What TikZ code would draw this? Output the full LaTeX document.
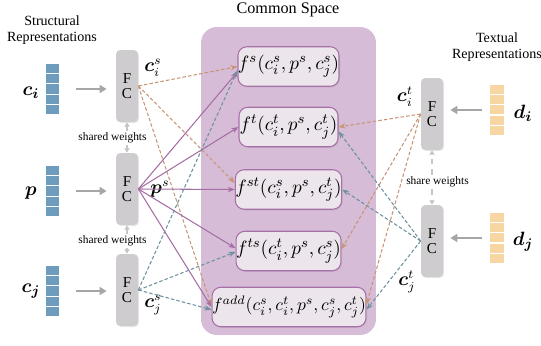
\documentclass[tikz,border=0pt]{standalone}
\usepackage{fontspec}
\setmainfont{Liberation Serif}
\usepackage{bm}
\usetikzlibrary{arrows.meta,shadows}

\definecolor{vecblue}{RGB}{110,156,188}
\definecolor{vecorange}{RGB}{248,214,162}
\definecolor{fcgray}{RGB}{206,204,206}
\definecolor{spacebg}{RGB}{214,188,214}
\definecolor{fboxfill}{RGB}{236,230,236}
\definecolor{fboxdraw}{RGB}{168,112,168}
\definecolor{sline}{RGB}{165,110,165}
\definecolor{brownln}{RGB}{200,148,116}
\definecolor{tealln}{RGB}{108,146,160}

\begin{document}
\begin{tikzpicture}[
    x=0.02cm, y=-0.02cm,
    %% Bunka vektora (štruktúrny / textový)
    bcell/.style={
        draw=white, line width=0.7pt, fill=vecblue,
        minimum width=0.3cm, minimum height=0.208cm, inner sep=0pt
    },
    ocell/.style={bcell, fill=vecorange},
    %% Plne prepojená vrstva
    fcbox/.style={
        fill=fcgray, rounded corners=2.5pt,
        drop shadow={shadow xshift=0.6pt, shadow yshift=-0.6pt, opacity=0.2},
        minimum width=0.44cm, minimum height=1.44cm, inner sep=0pt,
        align=center, font=\fontsize{8.6}{8.6}\selectfont
    },
    %% Funkcia v spoločnom priestore
    fbox/.style={
        draw=fboxdraw, fill=fboxfill, line width=0.6pt, rounded corners=5pt,
        drop shadow={shadow xshift=0.6pt, shadow yshift=-0.6pt, opacity=0.2},
        minimum width=1.98cm, minimum height=0.79cm, inner sep=0pt,
        font=\fontsize{11}{13}\selectfont
    },
    %% Vstup do FC
    feed/.style={draw=gray!70, line width=1.1pt, -{Triangle[length=4pt,width=4.5pt]}},
    %% Hrany do funkcií
    sedge/.style={draw=sline, line width=0.6pt, -{Stealth[length=4pt,width=3pt]}},
    iedge/.style={draw=brownln, line width=0.6pt, dash pattern=on 2pt off 1.2pt,
        -{Stealth[length=4pt,width=3pt]}},
    jedge/.style={iedge, draw=tealln},
    %% Zdieľané váhy
    wtarrow/.style={draw=gray!45, line width=0.8pt, -{Triangle[length=2.5pt,width=3pt]}},
    wtlbl/.style={font=\fontsize{6.5}{7}\selectfont, inner sep=1pt},
    ttl/.style={font=\fontsize{8}{9.2}\selectfont, align=center},
    vlbl/.style={font=\fontsize{11}{12}\selectfont},
    elbl/.style={font=\fontsize{10.5}{12}\selectfont}
]
\useasboundingbox (0,0) rectangle (541,345);

%% ══════════════════════════════════════════════════════════════════
%% Spoločný priestor
%% ══════════════════════════════════════════════════════════════════
\node[fill=spacebg, rounded corners=9pt, minimum width=3.5cm,
      minimum height=6.16cm, inner sep=0pt] (cs) at (288.5,181) {};
\node[font=\fontsize{9.2}{11}\selectfont] (cstitle) at (288,10) {Common Space};

\node[fbox] (fs)  at (288.5,66.5)  {$f^{s}(c_i^{s},p^{s},c_j^{s})$};
\node[fbox] (ft)  at (288.5,127)   {$f^{t}(c_i^{t},p^{s},c_j^{t})$};
\node[fbox] (fst) at (288.5,189.5) {$f^{st}(c_i^{s},p^{s},c_j^{t})$};
\node[fbox] (fts) at (288.5,251)   {$f^{ts}(c_i^{t},p^{s},c_j^{s})$};
\node[fbox, minimum width=3.04cm, font=\fontsize{10}{12}\selectfont] (fadd) at (289,307)
    {$f^{add}(c_i^{s},c_i^{t},p^{s},c_j^{s},c_j^{t})$};

%% ══════════════════════════════════════════════════════════════════
%% Štruktúrne reprezentácie
%% ══════════════════════════════════════════════════════════════════
\node[ttl] (strttl) at (52,30) {Structural\\Representations};

\foreach \v/\yy in {ci/89, p/191, cj/291} {
    \foreach \k in {1,...,5}
        \node[bcell] (\v\k) at (52.5, {\yy+(\k-3)*10.4}) {};
}
\node[vlbl] (lci) at (31,93)  {$\bm{c_i}$};
\node[vlbl] (lp)  at (31,193) {$\bm{p}$};
\node[vlbl] (lcj) at (31,291) {$\bm{c_j}$};

\node[fcbox] (fcl1) at (127,86)  {F\\C};
\node[fcbox] (fcl2) at (127,189) {F\\C};
\node[fcbox] (fcl3) at (127,290) {F\\C};

\draw[feed, shorten <=0.3cm, shorten >=0.18cm] (ci3.east) -- (ci3.east -| fcl1.west);
\draw[feed, shorten <=0.3cm, shorten >=0.18cm] (p3.east)  -- (p3.east -| fcl2.west);
\draw[feed, shorten <=0.3cm, shorten >=0.18cm] (cj3.east) -- (cj3.east -| fcl3.west);

\node[wtlbl] (sw1) at (112.5,138) {shared weights};
\node[wtlbl] (sw2) at (112.5,241) {shared weights};
\draw[wtarrow] (sw1.north -| fcl1.south) -- (fcl1.south);
\draw[wtarrow] (sw1.south -| fcl2.north) -- (fcl2.north);
\draw[wtarrow] (sw2.north -| fcl2.south) -- (fcl2.south);
\draw[wtarrow] (sw2.south -| fcl3.north) -- (fcl3.north);

\node[elbl] (lcis) at (153,68)  {$\bm{c}_i^{s}$};
\node[elbl] (lps)  at (160,189) {$\bm{p}^{s}$};
\node[elbl] (lcjs) at (153,305) {$\bm{c}_j^{s}$};

%% ══════════════════════════════════════════════════════════════════
%% Textové reprezentácie
%% ══════════════════════════════════════════════════════════════════
\node[ttl] (txtttl) at (497,47) {Textual\\Representations};

\foreach \v/\yy in {di/110, dj/238} {
    \foreach \k in {1,...,5}
        \node[ocell] (\v\k) at (497, {\yy+(\k-3)*10.2}) {};
}
\node[vlbl] (ldi) at (523,113) {$\bm{d_i}$};
\node[vlbl] (ldj) at (523,242) {$\bm{d_j}$};

\node[fcbox] (fcr1) at (432,114) {F\\C};
\node[fcbox] (fcr2) at (432,241) {F\\C};

\draw[feed, shorten <=0.13cm, shorten >=0.14cm] (di3.west) -- (di3.west -| fcr1.east);
\draw[feed, shorten <=0.13cm, shorten >=0.14cm] (dj3.west) -- (dj3.west -| fcr2.east);

\node[wtlbl] (sw3) at (437.5,182) {share weights};
\draw[wtarrow, dashed] (sw3.north -| fcr1.south) -- (fcr1.south);
\draw[wtarrow, dashed] (sw3.south -| fcr2.north) -- (fcr2.north);

\node[elbl] (lcit) at (405,97)  {$\bm{c}_i^{t}$};
\node[elbl] (lcjt) at (407,282) {$\bm{c}_j^{t}$};

%% ══════════════════════════════════════════════════════════════════
%% Hrany do funkcií
%% ══════════════════════════════════════════════════════════════════
\foreach \t in {fs.180, fst.173, fadd.179}
    \draw[iedge] (fcl1.east) -- (\t);
\foreach \t in {fs.186, ft.180, fst.180, fts.177, fadd.180}
    \draw[sedge] (fcl2.east) -- (\t);
\foreach \t in {fs.184, fts.181, fadd.182}
    \draw[jedge] (fcl3.east) -- (\t);
\foreach \t in {ft.0, fts.2, fadd.2}
    \draw[iedge] (fcr1.west) -- (\t);
\foreach \t in {ft.355, fst.0, fadd.358}
    \draw[jedge] (fcr2.west) -- (\t);

\end{tikzpicture}
\end{document}
